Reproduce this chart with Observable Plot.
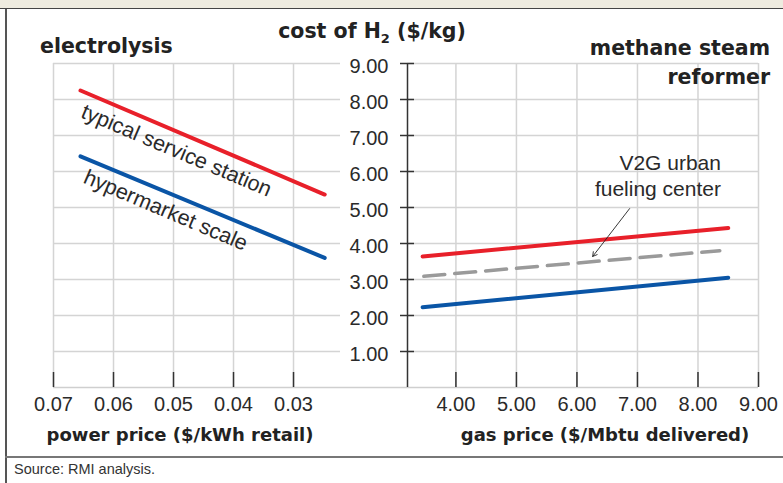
<!DOCTYPE html>
<html><head><meta charset="utf-8">
<script src="https://cdn.jsdelivr.net/npm/d3@7"></script>
<script src="https://cdn.jsdelivr.net/npm/@observablehq/plot@0.6"></script>
<style>
body{margin:0;background:#fff;}
#wrap{position:relative;width:783px;height:483px;overflow:hidden;font-family:"Liberation Sans",Arial,sans-serif;color:#222;background:#fff;}
#band{position:absolute;left:0;top:0;width:783px;height:8px;background:#eeebdf;border-bottom:1.5px solid #444;}
#lborder{position:absolute;left:5px;top:9px;width:1.5px;height:474px;background:#555;}
#sep{position:absolute;left:5px;top:456px;width:778px;height:1.5px;background:#777;}
#left,#right{position:absolute;top:0;}
#left{left:0;}
#right{left:340px;}
#titles{position:absolute;left:0;top:0;}
#source{position:absolute;left:14px;top:461px;font-size:14.5px;color:#333;font-family:"Liberation Sans",Arial,sans-serif;}
</style></head><body>
<div id="wrap">
  <div id="band"></div>
  <div id="lborder"></div>
  <div id="sep"></div>
  <div id="left"></div>
  <div id="right"></div>
  <svg id="titles" width="783" height="483" font-family="DejaVu Sans, sans-serif" font-weight="bold" fill="#222">
    <text x="40" y="53" font-size="20.5">electrolysis</text>
    <text x="372" y="38" font-size="20.5" text-anchor="middle">cost of H<tspan font-size="13" dy="5">2</tspan><tspan dy="-5"> ($/kg)</tspan></text>
    <text x="770" y="55" font-size="20.5" text-anchor="end">methane steam</text>
    <text x="770" y="84" font-size="20.5" text-anchor="end">reformer</text>
    <text x="180" y="441" font-size="18" text-anchor="middle">power price ($/kWh retail)</text>
    <text x="605" y="441" font-size="18" text-anchor="middle">gas price ($/Mbtu delivered)</text>
  </svg>
  <div id="source">Source: RMI analysis.</div>
</div>
<script>
// ---- data ----
const powerPrice = [0.0655, 0.0248];          // $/kWh retail
const elecStation = [8.25, 5.36];             // typical service station
const elecHyper = [6.42, 3.60];               // hypermarket scale
const gasPrice = [3.45, 8.5];                 // $/Mbtu delivered
const smrStation = [3.64, 4.43];
const smrHyper = [2.23, 3.05];
const gasPriceV2G = [3.47, 8.36];
const smrV2G = [3.09, 3.80];
const powerTicks = [0.07, 0.06, 0.05, 0.04, 0.03];
const gasTicks = [4, 5, 6, 7, 8, 9];
const costTicks = [1, 2, 3, 4, 5, 6, 7, 8, 9];
const powerDomain = [0.07, 0.02217];
const gasDomain = [3.2, 9];
const costDomain = [0, 9];
const labelsElec = [
  {x: 0.0495, y: 6.58, text: "typical service station"},
  {x: 0.0513, y: 4.92, text: "hypermarket scale"}
];
const v2gLabel = [{x: 8.38, y: 5.92, text: "V2G urban\nfueling center"}];
const v2gArrow = [{x1: 6.87, y1: 4.97, x2: 6.26, y2: 3.64}];

const toRows = (xs, ys) => xs.map((x, i) => ({x, y: ys[i]}));
const RED = "#e8202a", BLUE = "#0a55a6", GRAY = "#9a9a9a", GRID = "#d4d4d4", DARK = "#333";
const fmt = d3.format(".2f");
const TICKFONT = 20;
const common = {
  height: 483, marginTop: 63, marginBottom: 96,
  y: {domain: costDomain},
  style: {background: "transparent", fontSize: "20px", fontFamily: "Liberation Sans, Arial, sans-serif", color: "#2a2a2a", overflow: "visible"}
};

const left = Plot.plot({
  ...common,
  width: 340, marginLeft: 53, marginRight: 0,
  x: {domain: powerDomain},
  marks: [
    Plot.ruleY(costTicks, {stroke: GRID, strokeWidth: 1.5}),
    Plot.ruleX(powerTicks, {stroke: GRID, strokeWidth: 1.5}),
    Plot.ruleY([0], {stroke: "#cfcfcf", strokeWidth: 1.5}),
    Plot.ruleX(powerTicks, {y1: 0, y2: 0, insetBottom: 15, stroke: DARK, strokeWidth: 1.5}),
    Plot.line(toRows(powerPrice, elecStation), {x: "x", y: "y", stroke: RED, strokeWidth: 4}),
    Plot.line(toRows(powerPrice, elecHyper), {x: "x", y: "y", stroke: BLUE, strokeWidth: 4}),
    Plot.text(labelsElec, {x: "x", y: "y", text: "text", rotate: 23, fontSize: 21.5, fill: "#2a2a2a", textAnchor: "middle"}),
    Plot.axisX({ticks: powerTicks, tickFormat: fmt, tickSize: 0, tickPadding: 9, fontSize: TICKFONT, label: null}),
    Plot.axisY({ticks: [], label: null, tickSize: 0})
  ]
});
document.getElementById("left").appendChild(left);

const right = Plot.plot({
  ...common,
  width: 443, marginLeft: 67, marginRight: 25,
  x: {domain: gasDomain},
  marks: [
    Plot.ruleY(costTicks, {stroke: GRID, strokeWidth: 1.5}),
    Plot.ruleX(gasTicks, {stroke: GRID, strokeWidth: 1.5}),
    Plot.ruleY([0], {stroke: "#cfcfcf", strokeWidth: 1.5, insetLeft: -67}),
    Plot.ruleX(gasTicks, {y1: 0, y2: 0, insetBottom: 15, stroke: DARK, strokeWidth: 1.5}),
    Plot.ruleX([gasDomain[0]], {stroke: DARK, strokeWidth: 1.5}),
    Plot.ruleY(costTicks, {x1: gasDomain[0], x2: gasDomain[0], insetLeft: -7, insetRight: -7, stroke: DARK, strokeWidth: 1.5}),
    Plot.line(toRows(gasPrice, smrStation), {x: "x", y: "y", stroke: RED, strokeWidth: 4}),
    Plot.line(toRows(gasPriceV2G, smrV2G), {x: "x", y: "y", stroke: GRAY, strokeWidth: 3.5, strokeDasharray: "21,10"}),
    Plot.line(toRows(gasPrice, smrHyper), {x: "x", y: "y", stroke: BLUE, strokeWidth: 4}),
    Plot.arrow(v2gArrow, {x1: "x1", y1: "y1", x2: "x2", y2: "y2", stroke: "#222", strokeWidth: 0.9, headLength: 8}),
    Plot.text(v2gLabel, {x: "x", y: "y", text: "text", fontSize: 21, lineHeight: 1.24, textAnchor: "end", fill: "#2a2a2a"}),
    Plot.axisX({ticks: gasTicks, tickFormat: fmt, tickSize: 0, tickPadding: 9, fontSize: TICKFONT, label: null}),
    Plot.axisY({ticks: costTicks, tickFormat: fmt, tickSize: 0, tickPadding: 19, dy: 3, fontSize: TICKFONT, label: null})
  ]
});
document.getElementById("right").appendChild(right);
</script>
</body></html>
